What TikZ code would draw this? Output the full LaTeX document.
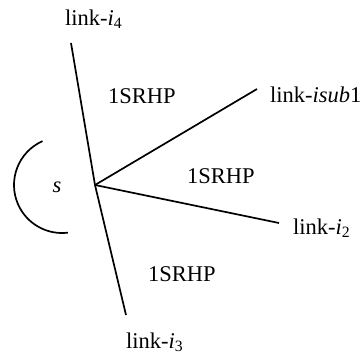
\documentclass[tikz,border=0pt]{standalone}
\usepackage{fontspec}
\setmainfont{Liberation Serif}
\usetikzlibrary{positioning}
\tikzset{
  lbl/.style={inner sep=0pt, font=\fontsize{22.5}{27}\selectfont, anchor=base west},
  link/.style={line width=1.7pt},
}
\newcommand{\linkname}[1]{link-\textit{i}\textsubscript{#1}}

\begin{document}
\begin{tikzpicture}[x=1pt, y=-1pt]
  \useasboundingbox (0,0) rectangle (364,359);
  % --- common point and link ends ---
  \coordinate (v) at (95,185);
  \coordinate (e4) at (71,43);
  \coordinate (e1) at (257,89);
  \coordinate (e2) at (279,223);
  \coordinate (e3) at (126,315);
  \draw[link] (e4) -- (v) -- (e3);
  \draw[link] (v) -- (e1);
  \draw[link] (v) -- (e2);

  % --- link labels ---
  \node[lbl, above left=17.5pt and 6pt of e4, anchor=base west] (l4) {\linkname{4}};
  \node[lbl, below right=13pt and 13pt of e1, anchor=base west] (l1) {link-\textit{isub}1};
  \node[lbl, below right=11pt and 14pt of e2, anchor=base west] (l2) {\linkname{2}};
  \node[lbl, below=33pt of e3, anchor=base west] (l3) {\linkname{3}};

  % --- half-planes ---
  \node[lbl] (r1) at (108,103) {1SRHP};
  \node[lbl] (r2) at (187,183) {1SRHP};
  \node[lbl] (r3) at (148,281) {1SRHP};

  % --- angle s ---
  \coordinate (sc) at (62,185);
  \draw[link] ([shift={(114:48pt)}]sc) arc[start angle=114, end angle=277, radius=48pt];
  \node[lbl, font=\fontsize{22.5}{27}\selectfont\itshape] (s) at (52.5,192) {s};
\end{tikzpicture}
\end{document}
